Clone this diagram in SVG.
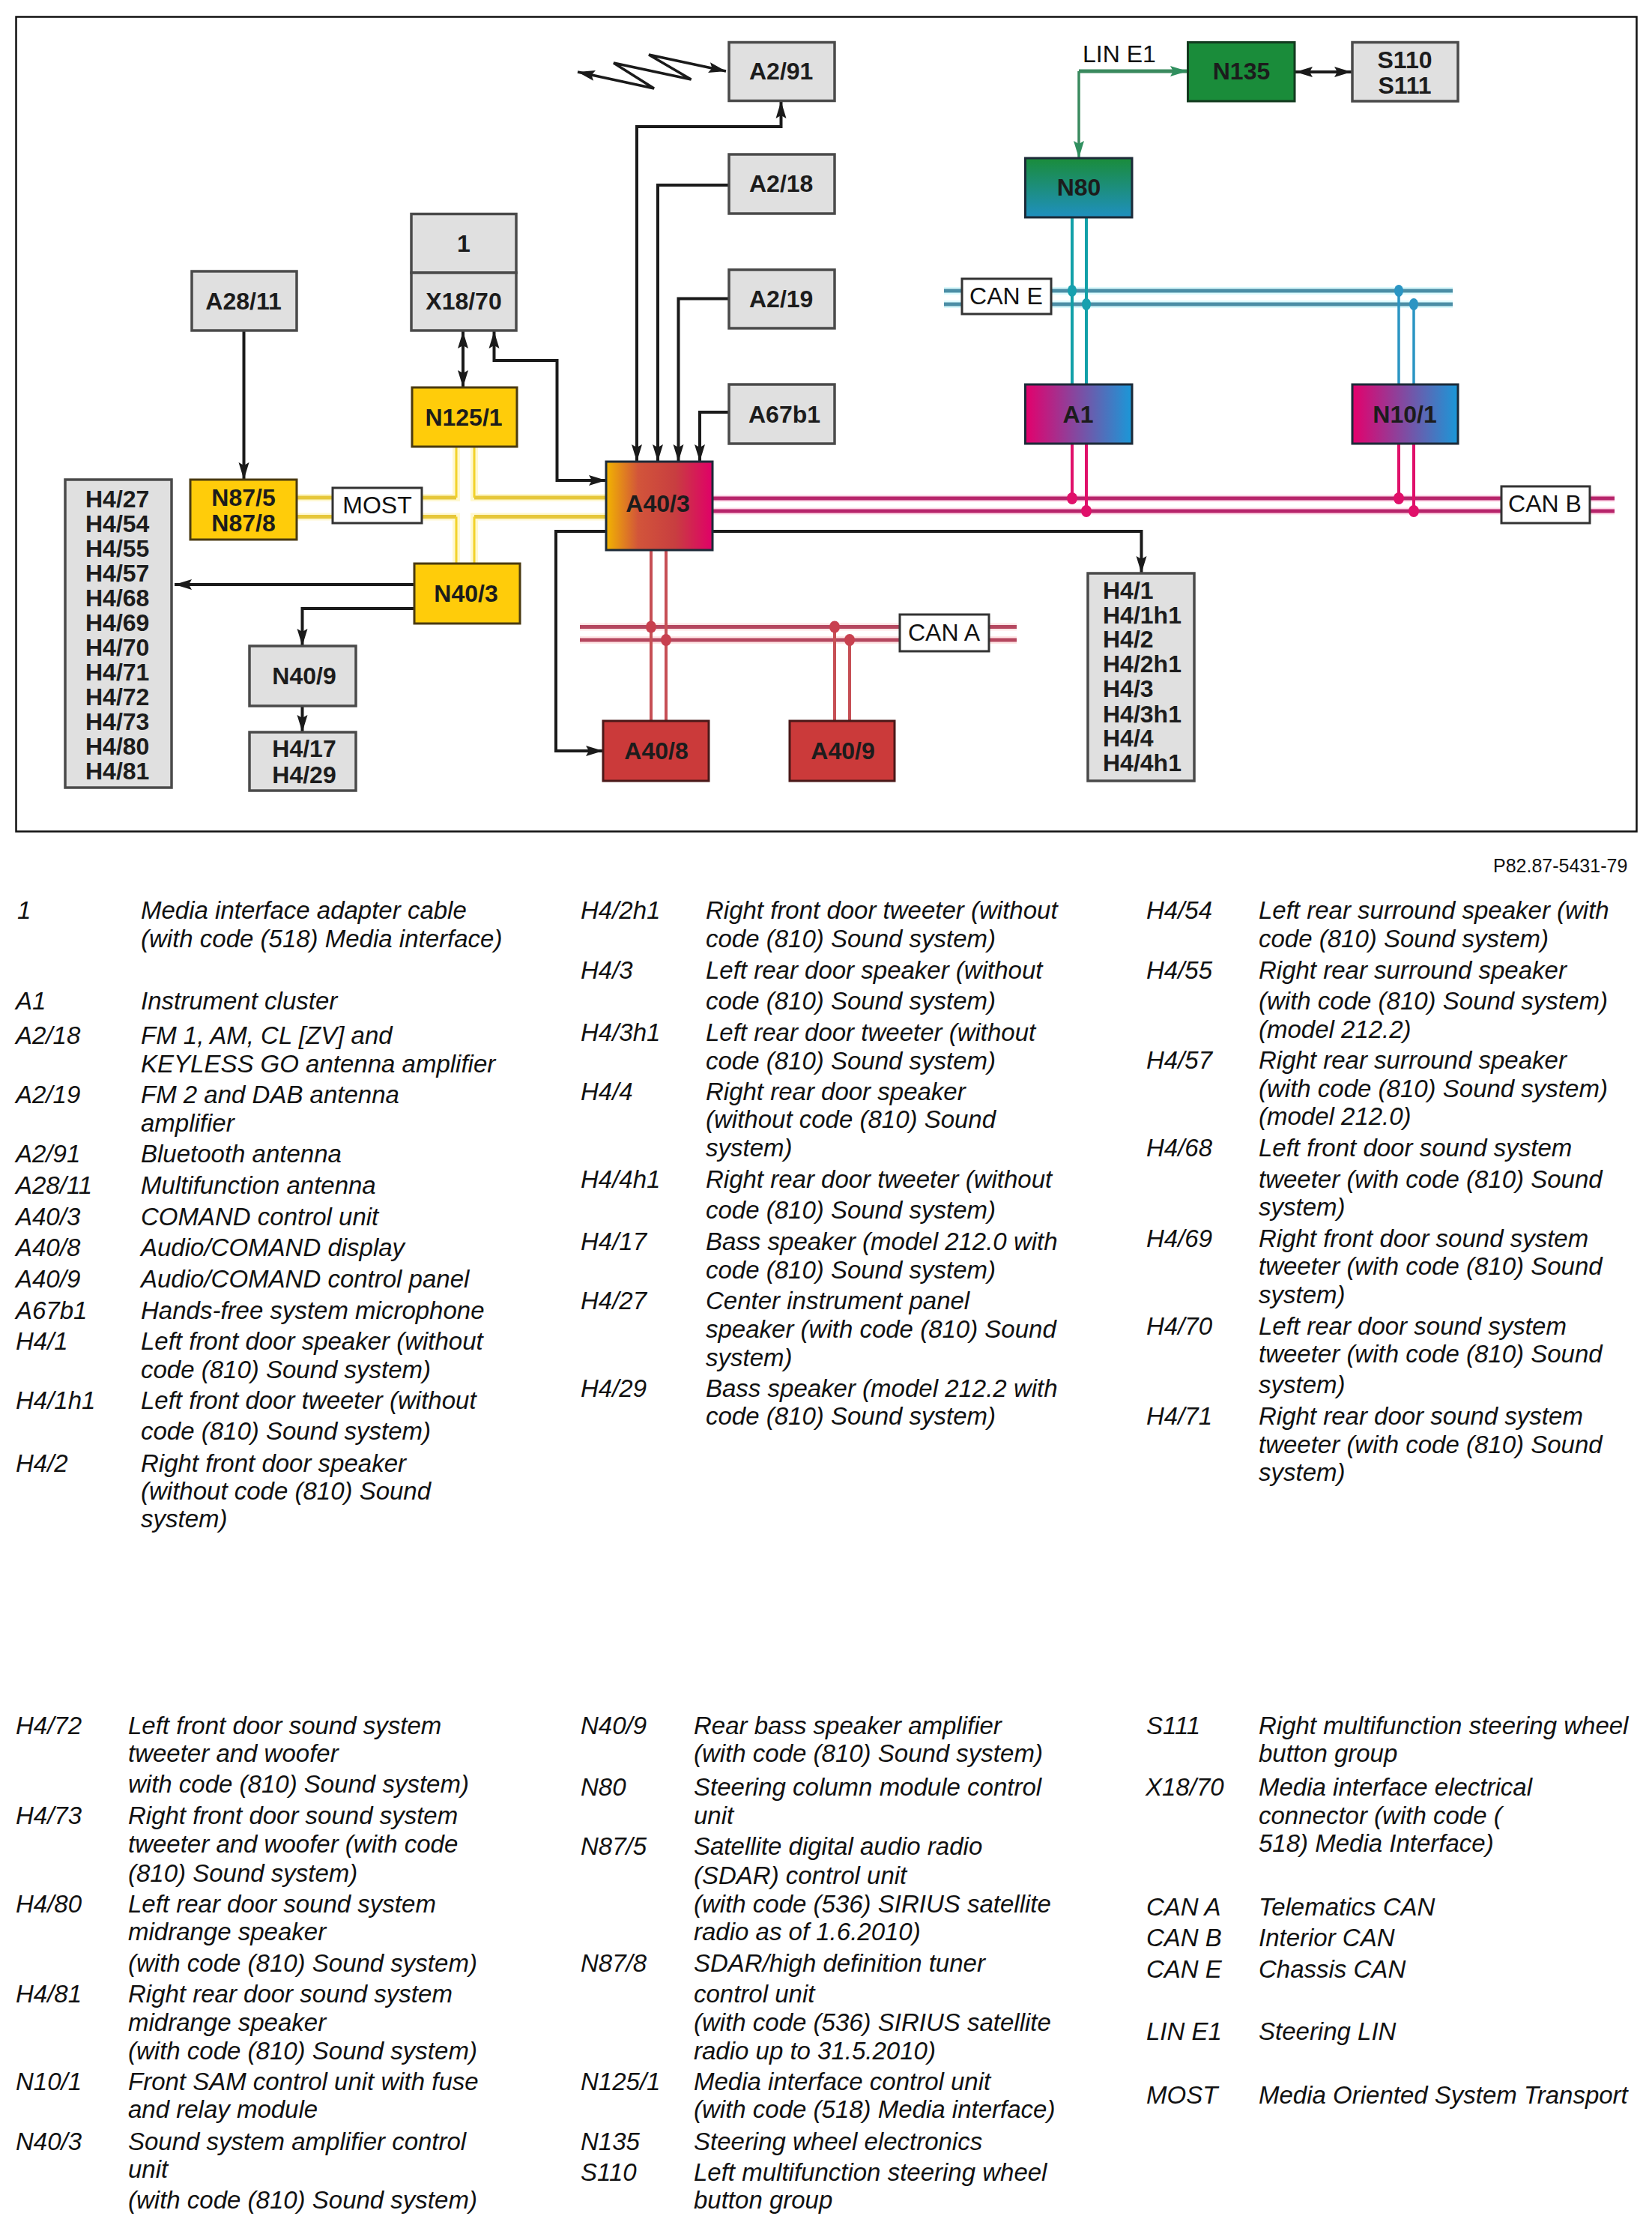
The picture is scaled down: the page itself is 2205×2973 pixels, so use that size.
<svg xmlns="http://www.w3.org/2000/svg" width="2205" height="2973" viewBox="0 0 2205 2973">
<style>
text{font-family:"Liberation Sans",Arial,sans-serif;fill:#111}
.n{font-weight:bold;font-size:32px;fill:#1c1c1c}
.c{text-anchor:middle}
.b{font-size:32px}
.l{font-style:italic;font-size:33px}
.gray{fill:#e0e0e0;stroke:#4a4a4a;stroke-width:3.5}
.yel{fill:#ffcc0a;stroke:#4a3a10;stroke-width:3}
.red{fill:#cb3a3a;stroke:#4a1818;stroke-width:3}
.grad{stroke:#1c2a38;stroke-width:3}
.tag{fill:#fff;stroke:#333;stroke-width:3}
.k{fill:none;stroke:#1a1a1a;stroke-width:4}
.arr{marker-end:url(#ah)}
.both{marker-start:url(#ah2);marker-end:url(#ah)}
.most{fill:none;stroke:#e6c73a;stroke-width:5}
.mosth{fill:none;stroke:#fff8cf;stroke-width:10}
.mostv{fill:none;stroke:#f2d22a;stroke-width:3}
.ce{stroke:#4b8ea6;stroke-width:5}.ceh{stroke:#dcfafd;stroke-width:10}
.cev{stroke:#12a0a8;stroke-width:4}.cev2{stroke:#2b95c3;stroke-width:3.5}
.cb{stroke:#b7256b;stroke-width:5}.cbh{stroke:#ffd8e8;stroke-width:9}
.cbv{stroke:#e0106a;stroke-width:4}
.ca{stroke:#b5475f;stroke-width:5}.cah{stroke:#ffe6e6;stroke-width:10}
.cav{stroke:#c64f55;stroke-width:4}
.de{fill:#17a0ae}.de2{fill:#2b95c3}.db{fill:#e0106a}.da{fill:#c8404f}
</style>
<defs>
<marker id="ah" markerUnits="userSpaceOnUse" markerWidth="24" markerHeight="16" viewBox="0 0 24 16" refX="23" refY="8" orient="auto"><path d="M0 1L23 8L0 15L4 8z" fill="#1a1a1a"/></marker>
<marker id="ah2" markerUnits="userSpaceOnUse" markerWidth="24" markerHeight="16" viewBox="0 0 24 16" refX="1" refY="8" orient="auto"><path d="M24 1L1 8L24 15L20 8z" fill="#1a1a1a"/></marker>
<marker id="ag" markerUnits="userSpaceOnUse" markerWidth="24" markerHeight="16" viewBox="0 0 24 16" refX="23" refY="8" orient="auto"><path d="M0 1L23 8L0 15L4 8z" fill="#2f8f5e"/></marker>
<linearGradient id="gA403"><stop offset="0" stop-color="#f2b400"/><stop offset=".3" stop-color="#d2553a"/><stop offset=".65" stop-color="#c83e40"/><stop offset="1" stop-color="#e00068"/></linearGradient>
<linearGradient id="gN80" x1="0" y1="0" x2="0" y2="1"><stop offset="0" stop-color="#1a8c3a"/><stop offset="1" stop-color="#1f90c0"/></linearGradient>
<linearGradient id="gA1"><stop offset="0" stop-color="#e4006c"/><stop offset="1" stop-color="#1a98d8"/></linearGradient>
</defs>
<rect id="frame" x="21.5" y="22.5" width="2163" height="1087" fill="#fff" stroke="#111" stroke-width="2.5"/>
<g id="connectors" fill="none">
<path class="mosth" d="M396 664H609V596M396 689.500H609V752M809 664H633V596M809 689.500H633V752"/>
<path class="most" d="M396 664H609M396 689.500H609M809 664H633M809 689.500H633"/>
<path class="mostv" d="M609 596V664M609 689.500V752M633 596V664M633 689.500V752"/>
<path class="ceh" d="M1260 388H1939M1260 406H1939"/>
<path class="ce" d="M1260 388H1939M1260 406H1939"/>
<path class="cev" d="M1431 290V513M1450 290V513"/>
<path class="cev2" d="M1867 388V513M1887 406V513"/>
<path class="cbh" d="M951 665H2155M951 682H2155"/>
<path class="cb" d="M951 665H2155M951 682H2155"/>
<path class="cbv" d="M1431 592V665M1450 592V682M1867 592V665M1887 592V682"/>
<path class="cah" d="M774 836.500H1357M774 854H1357"/>
<path class="ca" d="M774 836.500H1357M774 854H1357"/>
<path class="cav" d="M869 734V962M889 734V962M1114 836.500V962M1134 854V962"/>
<g class="de"><ellipse cx="1431" cy="388" rx="6" ry="8"/><ellipse cx="1450" cy="406" rx="6" ry="8"/></g>
<g class="de2"><ellipse cx="1867" cy="388" rx="6" ry="8"/><ellipse cx="1887" cy="406" rx="6" ry="8"/></g>
<g class="db"><ellipse cx="1431" cy="665" rx="7" ry="8"/><ellipse cx="1450" cy="682" rx="7" ry="8"/><ellipse cx="1867" cy="665" rx="7" ry="8"/><ellipse cx="1887" cy="682" rx="7" ry="8"/></g>
<g class="da"><ellipse cx="869" cy="836.500" rx="7" ry="8"/><ellipse cx="889" cy="854" rx="7" ry="8"/><ellipse cx="1114" cy="836.500" rx="7" ry="8"/><ellipse cx="1134" cy="854" rx="7" ry="8"/></g>
<path class="k both" d="M1042.500 135V169H850V616"/>
<path class="k arr" d="M973 247H878V616"/>
<path class="k arr" d="M973 398.500H905.500V616"/>
<path class="k arr" d="M973 550H934V616"/>
<path class="k arr" d="M325.500 441V640"/>
<path class="k both" d="M618 442V517"/>
<path class="k both" d="M659.500 442V481H743.500V641H809"/>
<path class="k arr" d="M553 780H233"/>
<path class="k arr" d="M553 812H403.500V862"/>
<path class="k arr" d="M403.500 942V977"/>
<path class="k arr" d="M809 709H742V1002H805"/>
<path class="k arr" d="M951 709H1523.500V765"/>
<path class="k both" d="M1729 96H1804"/>
<path fill="none" stroke="#1a1a1a" stroke-width="3.5" marker-start="url(#ah2)" marker-end="url(#ah)" d="M771 96L873 118L819 84L922.500 106L866 73L969 95"/>
<path fill="none" stroke="#3a8a5e" stroke-width="5" marker-end="url(#ag)" d="M1440 95H1585"/>
<path fill="none" stroke="#3a8a5e" stroke-width="3.5" marker-end="url(#ag)" d="M1440 95V211"/>
</g>
<g id="n-A2-91"><rect class="gray" x="973" y="56.500" width="141" height="78"/><text class="n" x="1000" y="106">A2/91</text></g>
<g id="n-A2-18"><rect class="gray" x="973" y="206" width="141" height="79"/><text class="n" x="1000" y="256">A2/18</text></g>
<g id="n-A2-19"><rect class="gray" x="973" y="360" width="141" height="78"/><text class="n" x="1000" y="410">A2/19</text></g>
<g id="n-A67b1"><rect class="gray" x="973" y="513" width="141" height="79"/><text class="n" x="999" y="563.500">A67b1</text></g>
<g id="n-A28-11"><rect class="gray" x="256" y="362" width="140" height="79"/><text class="n c" x="325" y="413">A28/11</text></g>
<g id="n-1"><rect class="gray" x="549" y="285.500" width="140" height="78.500"/><text class="n c" x="619" y="336">1</text></g>
<g id="n-X18-70"><rect class="gray" x="549" y="364" width="140" height="77"/><text class="n c" x="619" y="413">X18/70</text></g>
<g id="n-N125-1"><rect class="yel" x="550" y="517" width="140" height="79"/><text class="n c" x="619" y="568">N125/1</text></g>
<g id="n-A40-3"><rect class="grad" fill="url(#gA403)" x="809" y="616" width="142" height="118"/><text class="n c" x="878" y="683">A40/3</text></g>
<g id="n-N87"><rect class="yel" x="254" y="640" width="142" height="80"/><text class="n c" x="325" y="675">N87/5</text><text class="n c" x="325" y="709">N87/8</text></g>
<g id="tag-MOST"><rect class="tag" x="444" y="651" width="119" height="47"/><text class="b c" x="503.500" y="685">MOST</text></g>
<g id="n-N40-3"><rect class="yel" x="553" y="752" width="141" height="80"/><text class="n c" x="622" y="803">N40/3</text></g>
<g id="n-H4-left"><rect class="gray" x="87" y="640" width="142" height="411"/>
<text class="n" x="114" y="676.500">H4/27</text><text class="n" x="114" y="709.500">H4/54</text><text class="n" x="114" y="742.500">H4/55</text><text class="n" x="114" y="775.500">H4/57</text><text class="n" x="114" y="808.500">H4/68</text><text class="n" x="114" y="841.500">H4/69</text><text class="n" x="114" y="874.500">H4/70</text><text class="n" x="114" y="907.500">H4/71</text><text class="n" x="114" y="940.500">H4/72</text><text class="n" x="114" y="973.500">H4/73</text><text class="n" x="114" y="1006.500">H4/80</text><text class="n" x="114" y="1039.500">H4/81</text></g>
<g id="n-N40-9"><rect class="gray" x="333" y="862" width="142" height="80"/><text class="n c" x="406" y="913">N40/9</text></g>
<g id="n-H4-17"><rect class="gray" x="333" y="977" width="142" height="78"/><text class="n c" x="406" y="1010">H4/17</text><text class="n c" x="406" y="1045">H4/29</text></g>
<g id="n-A40-8"><rect class="red" x="805" y="962" width="141" height="80"/><text class="n c" x="876" y="1012.500">A40/8</text></g>
<g id="n-A40-9"><rect class="red" x="1054" y="962" width="140" height="80"/><text class="n c" x="1125" y="1012.500">A40/9</text></g>
<g id="n-H4-right"><rect class="gray" x="1452" y="765" width="142" height="277"/>
<text class="n" x="1472" y="799">H4/1</text><text class="n" x="1472" y="832">H4/1h1</text><text class="n" x="1472" y="864">H4/2</text><text class="n" x="1472" y="897">H4/2h1</text><text class="n" x="1472" y="930">H4/3</text><text class="n" x="1472" y="964">H4/3h1</text><text class="n" x="1472" y="996">H4/4</text><text class="n" x="1472" y="1029">H4/4h1</text></g>
<g id="tag-CANA"><rect class="tag" x="1201" y="820" width="119" height="49"/><text class="b c" x="1260" y="855">CAN A</text></g>
<g id="tag-CANB"><rect class="tag" x="2004" y="649" width="118" height="49"/><text class="b c" x="2062" y="683">CAN B</text></g>
<g id="tag-CANE"><rect class="tag" x="1284" y="372" width="119" height="47"/><text class="b c" x="1343" y="406">CAN E</text></g>
<g id="n-N135"><rect fill="#1a8c3a" stroke="#123a1e" stroke-width="3" x="1585.500" y="56.500" width="142.500" height="78.500"/><text class="n c" x="1657" y="106">N135</text></g>
<g id="n-S110"><rect class="gray" x="1805" y="56.500" width="141" height="78.500"/><text class="n c" x="1875" y="91">S110</text><text class="n c" x="1875" y="124.500">S111</text></g>
<g id="n-N80"><rect class="grad" fill="url(#gN80)" x="1368.500" y="211" width="142.500" height="79"/><text class="n c" x="1440" y="261">N80</text></g>
<g id="n-A1"><rect class="grad" fill="url(#gA1)" x="1368.500" y="513" width="142.500" height="79"/><text class="n c" x="1439" y="563.500">A1</text></g>
<g id="n-N10-1"><rect class="grad" fill="url(#gA1)" x="1805" y="513" width="141" height="79"/><text class="n c" x="1875" y="563.500">N10/1</text></g>
<text id="lin-e1" class="b" x="1445" y="83">LIN E1</text>
<text id="ref" x="1993" y="1164" font-size="25">P82.87-5431-79</text>
<g id="legend" class="l">
<text class="l" x="23" y="1226">1</text><text class="l" x="188" y="1226">Media interface adapter cable</text><text class="l" x="188" y="1264">(with code (518) Media interface)</text>
<text class="l" x="21" y="1347">A1</text><text class="l" x="188" y="1347">Instrument cluster</text>
<text class="l" x="21" y="1393">A2/18</text><text class="l" x="188" y="1393">FM 1, AM, CL [ZV] and</text><text class="l" x="188" y="1431">KEYLESS GO antenna amplifier</text>
<text class="l" x="21" y="1472">A2/19</text><text class="l" x="188" y="1472">FM 2 and DAB antenna</text><text class="l" x="188" y="1510">amplifier</text>
<text class="l" x="21" y="1551">A2/91</text><text class="l" x="188" y="1551">Bluetooth antenna</text>
<text class="l" x="21" y="1593">A28/11</text><text class="l" x="188" y="1593">Multifunction antenna</text>
<text class="l" x="21" y="1635">A40/3</text><text class="l" x="188" y="1635">COMAND control unit</text>
<text class="l" x="21" y="1676">A40/8</text><text class="l" x="188" y="1676">Audio/COMAND display</text>
<text class="l" x="21" y="1718">A40/9</text><text class="l" x="188" y="1718">Audio/COMAND control panel</text>
<text class="l" x="21" y="1760">A67b1</text><text class="l" x="188" y="1760">Hands-free system microphone</text>
<text class="l" x="21" y="1801">H4/1</text><text class="l" x="188" y="1801">Left front door speaker (without</text><text class="l" x="188" y="1839">code (810) Sound system)</text>
<text class="l" x="21" y="1880">H4/1h1</text><text class="l" x="188" y="1880">Left front door tweeter (without</text><text class="l" x="188" y="1921">code (810) Sound system)</text>
<text class="l" x="21" y="1964">H4/2</text><text class="l" x="188" y="1964">Right front door speaker</text><text class="l" x="188" y="2001">(without code (810) Sound</text><text class="l" x="188" y="2038">system)</text>

<text class="l" x="775" y="1226">H4/2h1</text><text class="l" x="942" y="1226">Right front door tweeter (without</text><text class="l" x="942" y="1264">code (810) Sound system)</text>
<text class="l" x="775" y="1306">H4/3</text><text class="l" x="942" y="1306">Left rear door speaker (without</text><text class="l" x="942" y="1347">code (810) Sound system)</text>
<text class="l" x="775" y="1389">H4/3h1</text><text class="l" x="942" y="1389">Left rear door tweeter (without</text><text class="l" x="942" y="1427">code (810) Sound system)</text>
<text class="l" x="775" y="1468">H4/4</text><text class="l" x="942" y="1468">Right rear door speaker</text><text class="l" x="942" y="1505">(without code (810) Sound</text><text class="l" x="942" y="1543">system)</text>
<text class="l" x="775" y="1585">H4/4h1</text><text class="l" x="942" y="1585">Right rear door tweeter (without</text><text class="l" x="942" y="1626">code (810) Sound system)</text>
<text class="l" x="775" y="1668">H4/17</text><text class="l" x="942" y="1668">Bass speaker (model 212.0 with</text><text class="l" x="942" y="1706">code (810) Sound system)</text>
<text class="l" x="775" y="1747">H4/27</text><text class="l" x="942" y="1747">Center instrument panel</text><text class="l" x="942" y="1785">speaker (with code (810) Sound</text><text class="l" x="942" y="1823">system)</text>
<text class="l" x="775" y="1864">H4/29</text><text class="l" x="942" y="1864">Bass speaker (model 212.2 with</text><text class="l" x="942" y="1901">code (810) Sound system)</text>

<text class="l" x="1530" y="1226">H4/54</text><text class="l" x="1680" y="1226">Left rear surround speaker (with</text><text class="l" x="1680" y="1264">code (810) Sound system)</text>
<text class="l" x="1530" y="1306">H4/55</text><text class="l" x="1680" y="1306">Right rear surround speaker</text><text class="l" x="1680" y="1347">(with code (810) Sound system)</text><text class="l" x="1680" y="1385">(model 212.2)</text>
<text class="l" x="1530" y="1426">H4/57</text><text class="l" x="1680" y="1426">Right rear surround speaker</text><text class="l" x="1680" y="1464">(with code (810) Sound system)</text><text class="l" x="1680" y="1501">(model 212.0)</text>
<text class="l" x="1530" y="1543">H4/68</text><text class="l" x="1680" y="1543">Left front door sound system</text><text class="l" x="1680" y="1585">tweeter (with code (810) Sound</text><text class="l" x="1680" y="1622">system)</text>
<text class="l" x="1530" y="1664">H4/69</text><text class="l" x="1680" y="1664">Right front door sound system</text><text class="l" x="1680" y="1701">tweeter (with code (810) Sound</text><text class="l" x="1680" y="1739">system)</text>
<text class="l" x="1530" y="1781">H4/70</text><text class="l" x="1680" y="1781">Left rear door sound system</text><text class="l" x="1680" y="1818">tweeter (with code (810) Sound</text><text class="l" x="1680" y="1859">system)</text>
<text class="l" x="1530" y="1901">H4/71</text><text class="l" x="1680" y="1901">Right rear door sound system</text><text class="l" x="1680" y="1939">tweeter (with code (810) Sound</text><text class="l" x="1680" y="1976">system)</text>

<text class="l" x="21" y="2314">H4/72</text><text class="l" x="171" y="2314">Left front door sound system</text><text class="l" x="171" y="2351">tweeter and woofer</text><text class="l" x="171" y="2392">with code (810) Sound system)</text>
<text class="l" x="21" y="2434">H4/73</text><text class="l" x="171" y="2434">Right front door sound system</text><text class="l" x="171" y="2472">tweeter and woofer (with code</text><text class="l" x="171" y="2511">(810) Sound system)</text>
<text class="l" x="21" y="2552">H4/80</text><text class="l" x="171" y="2552">Left rear door sound system</text><text class="l" x="171" y="2589">midrange speaker</text><text class="l" x="171" y="2631">(with code (810) Sound system)</text>
<text class="l" x="21" y="2672">H4/81</text><text class="l" x="171" y="2672">Right rear door sound system</text><text class="l" x="171" y="2710">midrange speaker</text><text class="l" x="171" y="2748">(with code (810) Sound system)</text>
<text class="l" x="21" y="2789">N10/1</text><text class="l" x="171" y="2789">Front SAM control unit with fuse</text><text class="l" x="171" y="2826">and relay module</text>
<text class="l" x="21" y="2869">N40/3</text><text class="l" x="171" y="2869">Sound system amplifier control</text><text class="l" x="171" y="2906">unit</text><text class="l" x="171" y="2947">(with code (810) Sound system)</text>

<text class="l" x="775" y="2314">N40/9</text><text class="l" x="926" y="2314">Rear bass speaker amplifier</text><text class="l" x="926" y="2351">(with code (810) Sound system)</text>
<text class="l" x="775" y="2396">N80</text><text class="l" x="926" y="2396">Steering column module control</text><text class="l" x="926" y="2434">unit</text>
<text class="l" x="775" y="2475">N87/5</text><text class="l" x="926" y="2475">Satellite digital audio radio</text><text class="l" x="926" y="2514">(SDAR) control unit</text><text class="l" x="926" y="2552">(with code (536) SIRIUS satellite</text><text class="l" x="926" y="2589">radio as of 1.6.2010)</text>
<text class="l" x="775" y="2631">N87/8</text><text class="l" x="926" y="2631">SDAR/high definition tuner</text><text class="l" x="926" y="2672">control unit</text><text class="l" x="926" y="2710">(with code (536) SIRIUS satellite</text><text class="l" x="926" y="2748">radio up to 31.5.2010)</text>
<text class="l" x="775" y="2789">N125/1</text><text class="l" x="926" y="2789">Media interface control unit</text><text class="l" x="926" y="2826">(with code (518) Media interface)</text>
<text class="l" x="775" y="2869">N135</text><text class="l" x="926" y="2869">Steering wheel electronics</text>
<text class="l" x="775" y="2910">S110</text><text class="l" x="926" y="2910">Left multifunction steering wheel</text><text class="l" x="926" y="2947">button group</text>

<text class="l" x="1530" y="2314">S111</text><text class="l" x="1680" y="2314">Right multifunction steering wheel</text><text class="l" x="1680" y="2351">button group</text>
<text class="l" x="1529" y="2396">X18/70</text><text class="l" x="1680" y="2396">Media interface electrical</text><text class="l" x="1680" y="2434">connector (with code (</text><text class="l" x="1680" y="2471">518) Media Interface)</text>
<text class="l" x="1530" y="2556">CAN A</text><text class="l" x="1680" y="2556">Telematics CAN</text>
<text class="l" x="1530" y="2597">CAN B</text><text class="l" x="1680" y="2597">Interior CAN</text>
<text class="l" x="1530" y="2639">CAN E</text><text class="l" x="1680" y="2639">Chassis CAN</text>
<text class="l" x="1530" y="2722">LIN E1</text><text class="l" x="1680" y="2722">Steering LIN</text>
<text class="l" x="1530" y="2807">MOST</text><text class="l" x="1680" y="2807">Media Oriented System Transport</text>
</g>
</svg>
